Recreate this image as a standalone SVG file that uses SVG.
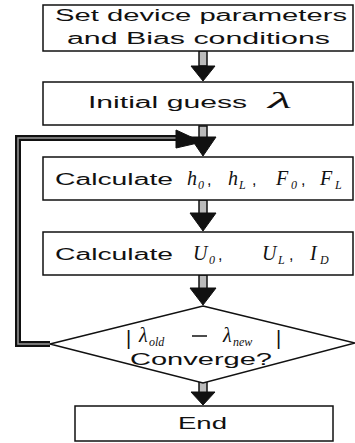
<svg xmlns="http://www.w3.org/2000/svg" width="355" height="443" viewBox="0 0 355 443">
<defs>
<style>
.box{fill:#fff;stroke:#111;stroke-width:1.5}
.t{font-family:"Liberation Sans",Arial,sans-serif;font-size:16px;fill:#111}
.m{font-family:"Liberation Serif","Times New Roman",serif;font-style:italic;font-size:20px;fill:#111}
.s{font-family:"Liberation Serif","Times New Roman",serif;font-style:italic;font-size:12px;fill:#111}
.shaft{fill:#bbb;stroke:#111;stroke-width:1.5}
.head{fill:#111;stroke:#111;stroke-width:1}
.loop{fill:none;stroke:#111;stroke-width:6}
.loopin{fill:none;stroke:#999;stroke-width:1.5}
</style>
</defs>
<rect width="355" height="443" fill="#fff"/>
<g id="connectors">
<path class="loop" d="M50,344 H18 V138 H180"/>
<path class="loopin" d="M50,344 H18 V138 H180"/>
<polygon class="head" points="176,130 202,142 176,148"/>
<rect class="shaft" x="199" y="51" width="8" height="15"/>
<polygon class="head" points="191,66 215,66 203,81"/>
<rect class="shaft" x="199" y="126" width="8" height="12"/>
<polygon class="head" points="190,137 216,137 203,156"/>
<rect class="shaft" x="199" y="200" width="8" height="14"/>
<polygon class="head" points="190,213 216,213 203,231"/>
<rect class="shaft" x="199" y="275" width="8" height="14"/>
<polygon class="head" points="190,288 216,288 203,305"/>
<rect class="shaft" x="199" y="382" width="8" height="11"/>
<polygon class="head" points="191,392 215,392 203,405"/>
</g>
<g id="n1">
<rect class="box" x="43" y="5" width="310" height="46"/>
<text class="t" x="55" y="21" textLength="292" lengthAdjust="spacingAndGlyphs">Set device parameters</text>
<text class="t" x="67" y="44" textLength="263" lengthAdjust="spacingAndGlyphs">and Bias conditions</text>
</g>
<g id="n2">
<rect class="box" x="43" y="82" width="310" height="43"/>
<text class="t" x="88" y="108" textLength="159" lengthAdjust="spacingAndGlyphs">Initial guess</text>
<text x="268" y="108" style="font-family:'Liberation Serif',serif;font-style:italic;font-size:24px;fill:#111" textLength="24" lengthAdjust="spacingAndGlyphs">λ</text>
</g>
<g id="n3">
<rect class="box" x="43" y="157" width="310" height="43"/>
<text class="t" x="55" y="185" textLength="118" lengthAdjust="spacingAndGlyphs">Calculate</text>
<text class="m" x="187" y="185">h</text><text class="s" x="198" y="189">0</text><text class="t" x="207" y="185">,</text>
<text class="m" x="228" y="185">h</text><text class="s" x="239" y="189">L</text><text class="t" x="252" y="185">,</text>
<text class="m" x="276" y="185">F</text><text class="s" x="291" y="189">0</text><text class="t" x="301" y="185">,</text>
<text class="m" x="320" y="185">F</text><text class="s" x="335" y="189">L</text>
</g>
<g id="n4">
<rect class="box" x="43" y="232" width="310" height="43"/>
<text class="t" x="55" y="260" textLength="118" lengthAdjust="spacingAndGlyphs">Calculate</text>
<text class="m" x="193" y="260">U</text><text class="s" x="209" y="264">0</text><text class="t" x="218" y="260">,</text>
<text class="m" x="262" y="260">U</text><text class="s" x="278" y="264">L</text><text class="t" x="289" y="260">,</text>
<text class="m" x="310" y="260">I</text><text class="s" x="320" y="264">D</text>
</g>
<g id="n5">
<polygon class="box" points="203,306 355,343 203,383 50,344"/>
<text class="t" x="126" y="345" style="font-size:20px">|</text>
<text class="m" x="139" y="342">λ</text><text class="s" x="149" y="346">old</text>
<line x1="192" y1="336" x2="207" y2="336" stroke="#111" stroke-width="1.5"/>
<text class="m" x="223" y="342">λ</text><text class="s" x="233" y="346">new</text>
<text class="t" x="276" y="345" style="font-size:20px">|</text>
<text class="t" x="130" y="365" textLength="142" lengthAdjust="spacingAndGlyphs">Converge?</text>
</g>
<g id="n6">
<rect class="box" x="75" y="406" width="258" height="35"/>
<text class="t" x="178" y="429" textLength="49" lengthAdjust="spacingAndGlyphs">End</text>
</g>
</svg>
